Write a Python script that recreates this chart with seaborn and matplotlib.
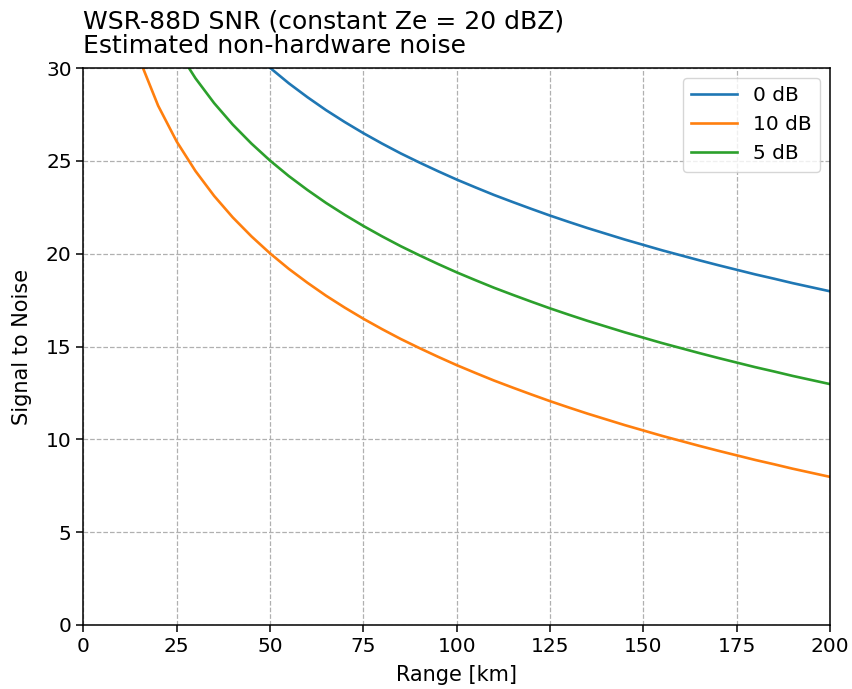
import matplotlib
matplotlib.use("Agg")
import matplotlib.pyplot as plt
import seaborn as sns
import pandas as pd

ranges_km = [10, 15, 20, 25, 30, 35, 40, 45, 50, 55, 60, 65, 70, 75, 80, 85, 90, 95, 100,
             105, 110, 115, 120, 125, 130, 135, 140, 145, 150, 155, 160, 165, 170, 175,
             180, 185, 190, 195, 200]
snr_0db = [44.00, 40.48, 37.98, 36.04, 34.46, 33.12, 31.96, 30.94, 30.02, 29.19, 28.44,
           27.74, 27.10, 26.50, 25.94, 25.41, 24.92, 24.45, 24.00, 23.58, 23.17, 22.79,
           22.42, 22.06, 21.72, 21.39, 21.08, 20.77, 20.48, 20.19, 19.92, 19.65, 19.39,
           19.14, 18.89, 18.66, 18.42, 18.20, 17.98]
snr_10db = [34.00, 30.48, 27.98, 26.04, 24.46, 23.12, 21.96, 20.94, 20.02, 19.19, 18.44,
            17.74, 17.10, 16.50, 15.94, 15.41, 14.92, 14.45, 14.00, 13.58, 13.17, 12.79,
            12.42, 12.06, 11.72, 11.39, 11.08, 10.77, 10.48, 10.19, 9.92, 9.65, 9.39,
            9.14, 8.89, 8.66, 8.42, 8.20, 7.98]
snr_5db = [39.00, 35.48, 32.98, 31.04, 29.46, 28.12, 26.96, 25.94, 25.02, 24.19, 23.44,
           22.74, 22.10, 21.50, 20.94, 20.41, 19.92, 19.45, 19.00, 18.58, 18.17, 17.79,
           17.42, 17.06, 16.72, 16.39, 16.08, 15.77, 15.48, 15.19, 14.92, 14.65, 14.39,
           14.14, 13.89, 13.66, 13.42, 13.20, 12.98]
series_labels = ["0 dB", "10 dB", "5 dB"]
series_colors = ["#1f77b4", "#ff7f0e", "#2ca02c"]

rows = []
for lab, vals in zip(series_labels, [snr_0db, snr_10db, snr_5db]):
    for r, v in zip(ranges_km, vals):
        rows.append({"Range": r, "SNR": v, "Noise": lab})
df = pd.DataFrame(rows)

fig, ax = plt.subplots(figsize=(8.52, 6.89), dpi=100)
sns.lineplot(data=df, x="Range", y="SNR", hue="Noise", hue_order=series_labels,
             palette=series_colors, linewidth=1.9, ax=ax)

ax.set_xlim(0, 200)
ax.set_ylim(0, 30)
ax.set_xticks(range(0, 201, 25))
ax.set_yticks(range(0, 31, 5))
ax.grid(True, linestyle="--", color="#b0b0b0", linewidth=0.9)
ax.set_axisbelow(True)
for s in ax.spines.values():
    s.set_linewidth(1.1)
ax.set_xlabel("Range [km]", fontsize=15, labelpad=7)
ax.set_ylabel("Signal to Noise", fontsize=15, labelpad=10)
ax.tick_params(labelsize=14.5, length=5, width=1.1)
ax.set_title("WSR-88D SNR (constant Ze = 20 dBZ)\nEstimated non-hardware noise",
             loc="left", fontsize=18, linespacing=1.0, pad=11)
leg = ax.legend(loc="upper right", fontsize=14.5, title=None, handlelength=2.3)

fig.subplots_adjust(left=0.098, right=0.974, top=0.901, bottom=0.093)
fig.savefig("out.png", dpi=100)
